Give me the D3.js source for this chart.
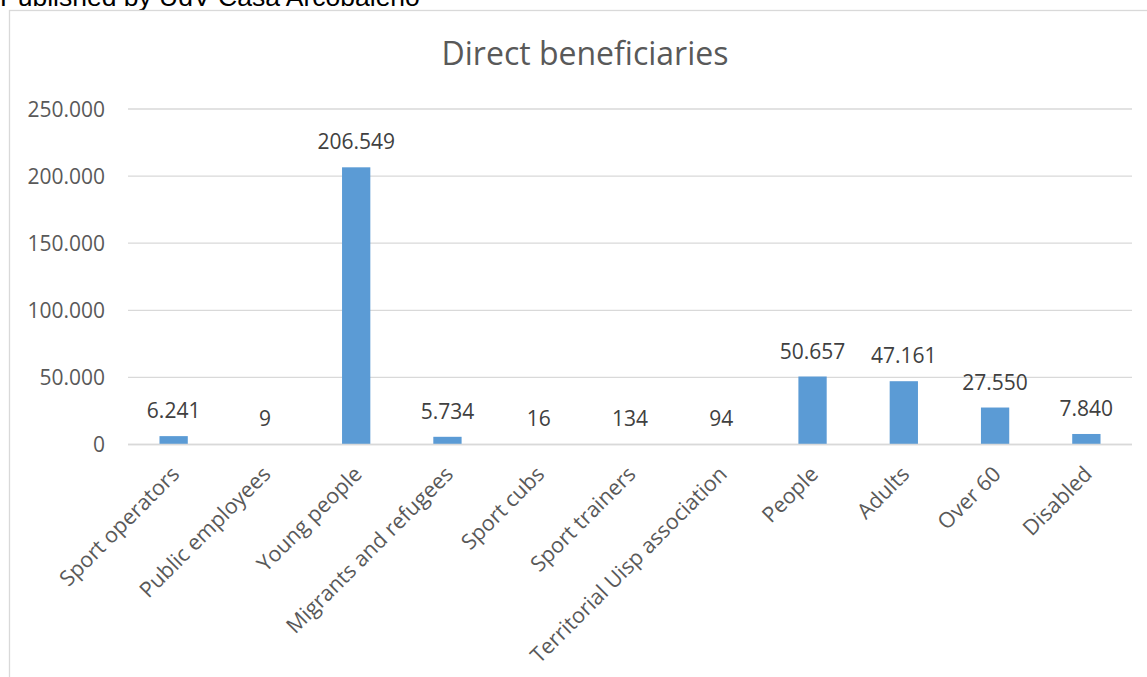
<!DOCTYPE html>
<html>
<head>
<meta charset="utf-8">
<script src="https://cdn.jsdelivr.net/npm/d3@7"></script>
<style>
  body { margin: 0; background: #fff; }
  svg { display: block; }
</style>
</head>
<body>
<svg id="chart"></svg>
<script>
// Chart values
const categories = ["Sport operators", "Public employees", "Young people", "Migrants and refugees",
  "Sport cubs", "Sport trainers", "Territorial Uisp association", "People", "Adults", "Over 60", "Disabled"];
const values = [6241, 9, 206549, 5734, 16, 134, 94, 50657, 47161, 27550, 7840];
const yTicks = [0, 50000, 100000, 150000, 200000, 250000];

const width = 1147;
const height = 677;

const svg = d3.select("#chart")
  .attr("width", width)
  .attr("height", height);

// Italian number format (dot as thousands separator)
const it = d3.formatLocale({ decimal: ",", thousands: ".", grouping: [3], currency: ["€", ""] });
const fmt = it.format(",d");

// Source line, cut at the top like in the original
svg.append("text")
  .attr("x", 0)
  .attr("y", 6)
  .attr("font-family", "Liberation Sans, Arial, sans-serif")
  .attr("font-size", 26.5)
  .attr("fill", "#000")
  .text("Published by UdV Casa Arcobaleno");

// Chart border (runs off the right and bottom edges)
svg.append("rect")
  .attr("x", 9.5)
  .attr("y", 10.5)
  .attr("width", width + 20)
  .attr("height", height + 20)
  .attr("fill", "#fff")
  .attr("stroke", "#d9d9d9")
  .attr("stroke-width", 1.3);

const font = "'Open Sans', sans-serif";

// Scales
const x = d3.scaleBand()
  .domain(categories)
  .range([128, 1132])
  .paddingInner(0.69)
  .paddingOuter(0.345);

const y = d3.scaleLinear()
  .domain([0, 250000])
  .range([444.5, 109]);

// Title
svg.append("text")
  .attr("x", 585)
  .attr("y", 65)
  .attr("text-anchor", "middle")
  .attr("font-family", font)
  .attr("font-size", 32)
  .attr("fill", "#595959")
  .text("Direct beneficiaries");

// Gridlines
svg.append("g")
  .selectAll("line")
  .data(yTicks)
  .enter().append("line")
  .attr("x1", 128)
  .attr("x2", 1132)
  .attr("y1", d => y(d))
  .attr("y2", d => y(d))
  .attr("stroke", "#d9d9d9")
  .attr("stroke-width", 1.3);

// Y tick labels
svg.append("g")
  .selectAll("text")
  .data(yTicks)
  .enter().append("text")
  .attr("x", 105)
  .attr("y", d => y(d))
  .attr("dy", "0.36em")
  .attr("text-anchor", "end")
  .attr("font-family", font)
  .attr("font-size", 21)
  .attr("fill", "#595959")
  .text(d => fmt(d));

// Bars
svg.append("g")
  .selectAll("rect")
  .data(values)
  .enter().append("rect")
  .attr("x", (d, i) => x(categories[i]))
  .attr("y", d => y(d))
  .attr("width", x.bandwidth())
  .attr("height", d => y(0) - y(d))
  .attr("fill", "#5b9bd5");

// Axis line
svg.append("line")
  .attr("x1", 128)
  .attr("x2", 1132)
  .attr("y1", y(0))
  .attr("y2", y(0))
  .attr("stroke", "#d9d9d9")
  .attr("stroke-width", 1.5);

// Data labels
svg.append("g")
  .selectAll("text")
  .data(values)
  .enter().append("text")
  .attr("x", (d, i) => x(categories[i]) + x.bandwidth() / 2)
  .attr("y", d => y(d) - 18)
  .attr("text-anchor", "middle")
  .attr("font-family", font)
  .attr("font-size", 21)
  .attr("fill", "#404040")
  .text(d => fmt(d));

// Category labels, rotated
svg.append("g")
  .selectAll("text")
  .data(categories)
  .enter().append("text")
  .attr("transform", d => `translate(${x(d) + x.bandwidth() / 2 + 7},${y(0) + 31}) rotate(-45)`)
  .attr("text-anchor", "end")
  .attr("font-family", font)
  .attr("font-size", 21.5)
  .attr("fill", "#595959")
  .text(d => d);
</script>
</body>
</html>
